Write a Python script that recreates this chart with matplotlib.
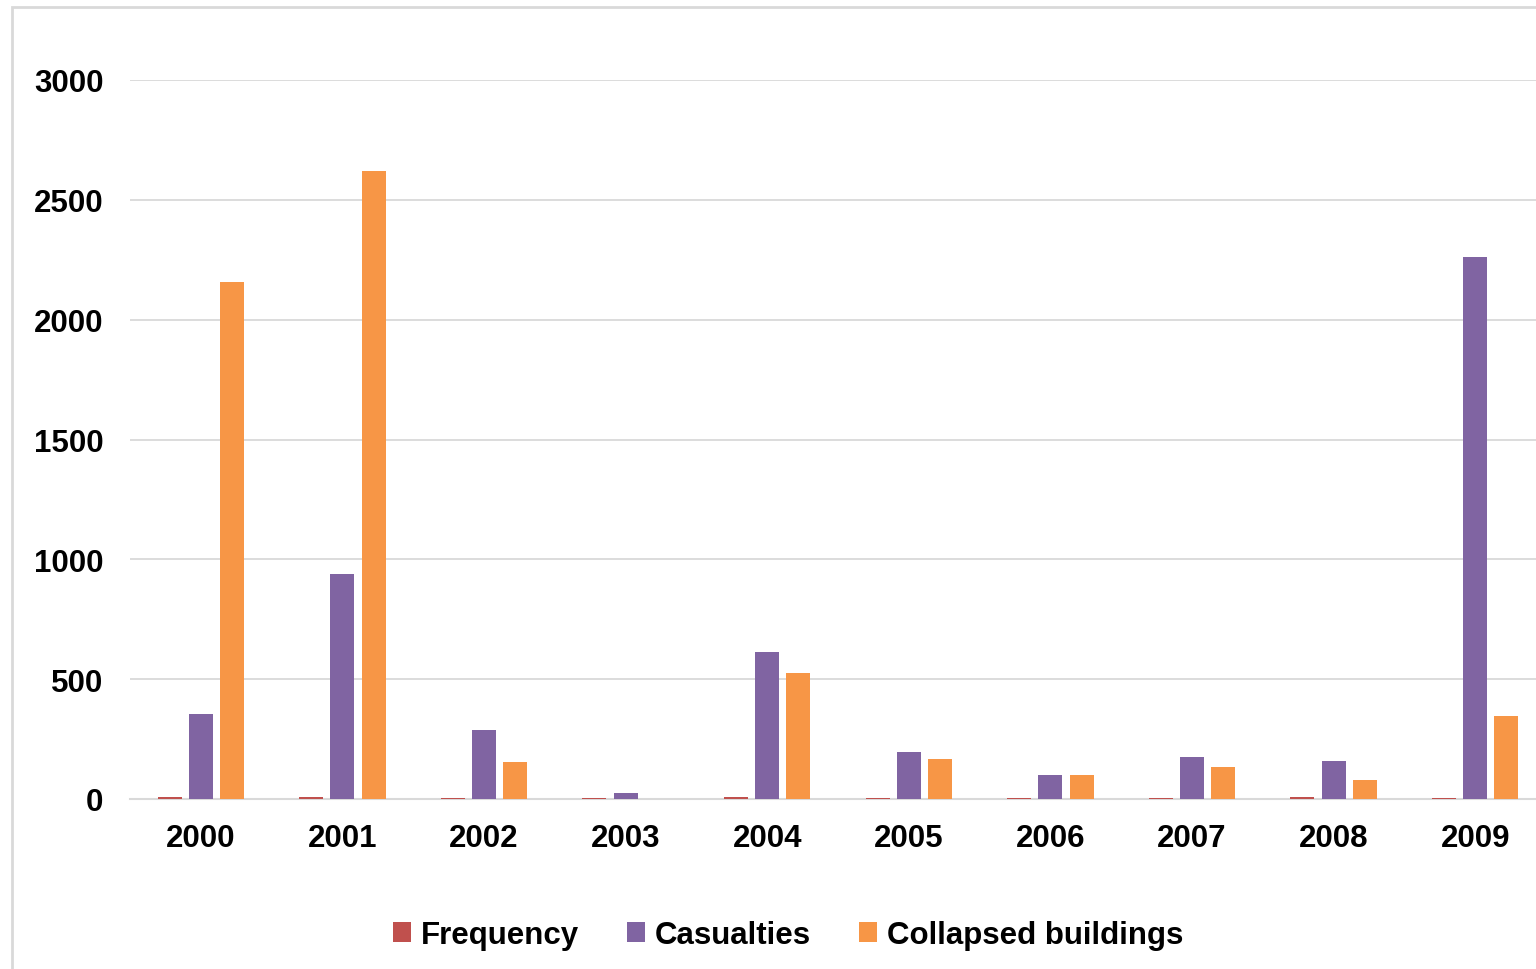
import numpy as np
import matplotlib.pyplot as plt
from matplotlib.patches import Rectangle

years = ['2000', '2001', '2002', '2003', '2004', '2005', '2006', '2007', '2008', '2009']
frequency = [10, 7, 3, 5, 10, 4, 6, 5, 10, 4]
casualties = [355, 939, 288, 25, 613, 196, 100, 175, 158, 2261]
collapsed = [2157, 2620, 154, 0, 526, 167, 100, 133, 79, 346]

plt.rcParams['font.family'] = ['Liberation Sans', 'DejaVu Sans']
plt.rcParams['font.weight'] = 'bold'

fig = plt.figure(figsize=(15.36, 9.7), dpi=100)
ax = fig.add_axes([130 / 1536, 1 - 800 / 970, 1416 / 1536, 719 / 970])

# outer chart border (cut off at right and bottom)
fig.patches.append(Rectangle((12 / 1536, -0.1), 1.2, 1 - 8 / 970 + 0.1,
                             transform=fig.transFigure, fill=False,
                             edgecolor='#d9d9d9', linewidth=2, zorder=0))

x = np.arange(len(years))
w = 0.17
step = 0.22
series = [('Frequency', frequency, '#C0504D'),
          ('Casualties', casualties, '#8064A2'),
          ('Collapsed buildings', collapsed, '#F79646')]
for i, (name, vals, col) in enumerate(series):
    ax.bar(x + (i - 1) * step, vals, width=w, color=col, label=name,
           linewidth=0, zorder=3)

ax.set_xlim(-0.5, len(years) - 0.5)
ax.set_ylim(0, 3000)
ax.set_yticks(range(0, 3001, 500))
ax.set_xticks(x)
ax.set_xticklabels(years)
ax.grid(axis='y', color='#d9d9d9', linewidth=1.3, zorder=0)
ax.set_axisbelow(True)
for s in ['top', 'right', 'left']:
    ax.spines[s].set_visible(False)
ax.spines['bottom'].set_color('#d9d9d9')
ax.spines['bottom'].set_linewidth(1.5)
ax.spines['bottom'].set_zorder(2)
ax.tick_params(axis='both', length=0, labelsize=22.5)
ax.tick_params(axis='y', pad=19)
ax.tick_params(axis='x', pad=17)

ax.legend(loc='center', bbox_to_anchor=(788 / 1536, 1 - 936 / 970),
          bbox_transform=fig.transFigure, ncol=3, frameon=False,
          fontsize=22.5, handlelength=0.58, handleheight=0.58,
          handletextpad=0.3, columnspacing=1.55)

fig.savefig('out.png', dpi=100)
